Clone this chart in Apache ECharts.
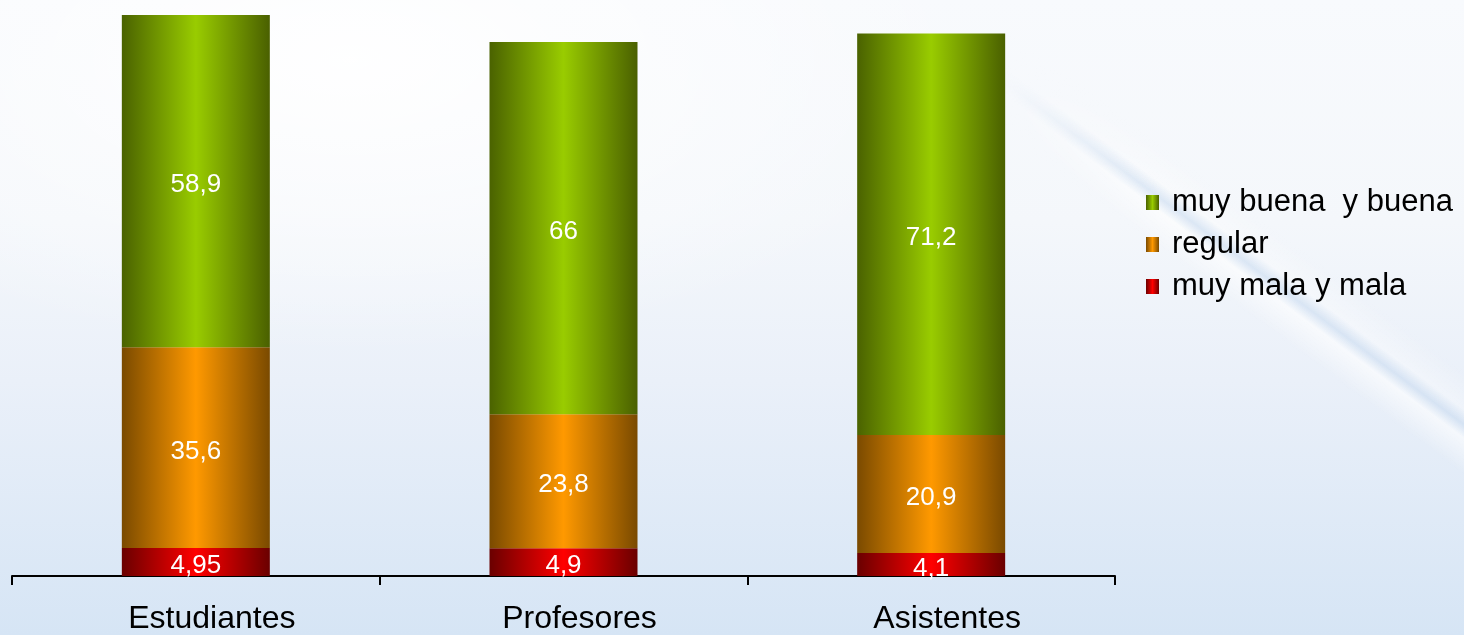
<!DOCTYPE html>
<html>
<head>
<meta charset="utf-8">
<script src="https://cdn.jsdelivr.net/npm/echarts@6/dist/echarts.min.js"></script>
<style>
html,body{margin:0;padding:0;width:1464px;height:635px;overflow:hidden;position:relative;}
body{
  background:
    radial-gradient(ellipse 900px 420px at 350px 60px, rgba(255,255,255,0.95), rgba(255,255,255,0) 70%),
    linear-gradient(to bottom, #f8fafd 0%, #f4f7fb 35%, #eaf0f9 60%, #d6e5f5 100%);
}
#streak{
  position:absolute;left:0;top:0;width:1464px;height:635px;
  background:linear-gradient(36.7deg, rgba(255,255,255,0) 72.5%, rgba(255,255,255,0.6) 74.6%, rgba(195,215,238,0.5) 75.4%, rgba(255,255,255,0.35) 76.3%, rgba(255,255,255,0) 78.5%);
  -webkit-mask-image:linear-gradient(to right, transparent 1000px, black 1160px);
  mask-image:linear-gradient(to right, transparent 1000px, black 1160px);
}
#chart{position:absolute;left:0;top:0;width:1464px;height:635px;}
</style>
</head>
<body>
<div id="streak"></div>
<div id="chart"></div>
<script>
const categories = ["Estudiantes", "Profesores", "Asistentes"];
const seriesNames = ["muy mala y mala", "regular", "muy buena  y buena"];
const muyMala = [4.95, 4.9, 4.1];
const regular = [35.6, 23.8, 20.9];
const muyBuena = [58.9, 66, 71.2];

function grad(edgeL, center, edgeR) {
  return new echarts.graphic.LinearGradient(0, 0, 1, 0, [
    {offset: 0, color: edgeL},
    {offset: 0.5, color: center},
    {offset: 1, color: edgeR}
  ]);
}
const font = '"Liberation Sans", Arial, sans-serif';
const label = {
  show: true, position: 'inside', color: '#ffffff',
  fontSize: 26, fontFamily: font, offset: [0, 4],
  formatter: p => String(p.value).replace('.', ',')
};
function mk(name, data, color) {
  return {
    name: name, type: 'bar', stack: 'total', data: data,
    barWidth: 148, itemStyle: {color: color}, label: label
  };
}
const chart = echarts.init(document.getElementById('chart'), null, {renderer: 'canvas'});
chart.setOption({
  backgroundColor: 'transparent',
  animation: false,
  grid: {left: 12, right: 349, top: 12, bottom: 56, containLabel: false},
  legend: {
    data: [seriesNames[2], seriesNames[1], seriesNames[0]],
    orient: 'vertical', left: 1146, top: 187, padding: 0,
    icon: 'rect', itemWidth: 13, itemHeight: 15, itemGap: 11,
    textStyle: {fontSize: 31, fontFamily: font, color: '#000', padding: [0, 0, 0, 8]}
  },
  xAxis: {
    type: 'category', data: categories,
    axisLine: {lineStyle: {color: '#000', width: 2}},
    axisTick: {show: true, length: 9, lineStyle: {color: '#000', width: 2}},
    axisLabel: {fontSize: 32, fontFamily: font, color: '#000', margin: 27, padding: [0, 0, 0, 32]}
  },
  yAxis: {type: 'value', min: 0, max: 100, show: false, splitLine: {show: false}},
  series: [
    mk(seriesNames[0], muyMala, grad('#6a0000', '#ff0000', '#6a0000')),
    mk(seriesNames[1], regular, grad('#7a4a00', '#ff9900', '#7a4a00')),
    mk(seriesNames[2], muyBuena, grad('#4a6200', '#99cc00', '#4a6000'))
  ]
});
</script>
</body>
</html>
